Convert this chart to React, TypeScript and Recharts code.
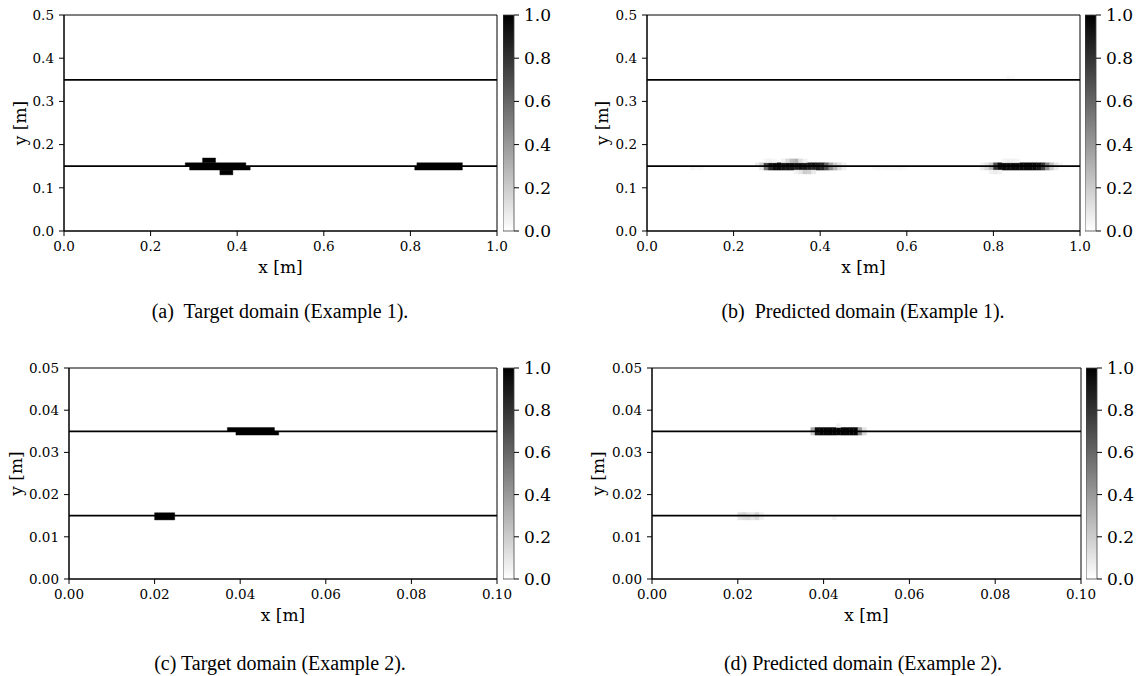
import React from 'react';
import { ComposedChart, Line, XAxis, YAxis, ReferenceArea, Label } from 'recharts';

// ---------- axis ticks / domains ----------
const ex1XTicks = [0, 0.2, 0.4, 0.6, 0.8, 1.0];
const ex1YTicks = [0, 0.1, 0.2, 0.3, 0.4, 0.5];
const ex2XTicks = [0, 0.02, 0.04, 0.06, 0.08, 0.1];
const ex2YTicks = [0, 0.01, 0.02, 0.03, 0.04, 0.05];
const colorbarTicks = [0, 0.2, 0.4, 0.6, 0.8, 1.0];
const ex1Interfaces = [0.15, 0.35];
const ex2Interfaces = [0.015, 0.035];

// ---------- target domains: blocks of value 1 ----------
const target1Blocks = [
  { x0: 0.28, x1: 0.42, y0: 0.1495, y1: 0.158, v: 1 },
  { x0: 0.29, x1: 0.43, y0: 0.141, y1: 0.1495, v: 1 },
  { x0: 0.32, x1: 0.35, y0: 0.158, y1: 0.169, v: 1 },
  { x0: 0.36, x1: 0.39, y0: 0.13, y1: 0.141, v: 1 },
  { x0: 0.815, x1: 0.92, y0: 0.1495, y1: 0.158, v: 1 },
  { x0: 0.81, x1: 0.92, y0: 0.141, y1: 0.1495, v: 1 },
];
const target2Blocks = [
  { x0: 0.037, x1: 0.048, y0: 0.035, y1: 0.0359, v: 1 },
  { x0: 0.039, x1: 0.049, y0: 0.0341, y1: 0.035, v: 1 },
  { x0: 0.02, x1: 0.0247, y0: 0.014, y1: 0.0157, v: 1 },
];

// ---------- predicted domains: pixel rows (start x, step, values) ----------
const pred1Rows = [
  { y0: 0.1495, y1: 0.158, x0: 0.25, dx: 0.01, vals: [0.08, 0.2, 0.75, 0.95, 0.97, 0.97, 0.95, 0.97, 0.95, 0.93, 0.95, 0.9, 0.9, 0.92, 0.88, 0.85, 0.6, 0.35, 0.2, 0.12, 0.05] },
  { y0: 0.141, y1: 0.1495, x0: 0.26, dx: 0.01, vals: [0.1, 0.55, 0.85, 0.95, 0.95, 0.93, 0.92, 0.9, 0.88, 0.92, 0.9, 0.88, 0.85, 0.88, 0.85, 0.7, 0.45, 0.3, 0.15, 0.06] },
  { y0: 0.158, y1: 0.167, x0: 0.31, dx: 0.01, vals: [0.06, 0.15, 0.25, 0.3, 0.12, 0.05] },
  { y0: 0.132, y1: 0.141, x0: 0.34, dx: 0.01, vals: [0.05, 0.1, 0.2, 0.18, 0.08] },
  { y0: 0.158, y1: 0.167, x0: 0.27, dx: 0.01, vals: [0.04, 0.05, 0.03] },
  { y0: 0.1495, y1: 0.158, x0: 0.77, dx: 0.01, vals: [0.05, 0.1, 0.2, 0.7, 0.95, 0.97, 0.97, 0.97, 0.97, 0.97, 0.97, 0.97, 0.97, 0.92, 0.8, 0.5, 0.25, 0.1, 0.04] },
  { y0: 0.141, y1: 0.1495, x0: 0.77, dx: 0.01, vals: [0.08, 0.15, 0.3, 0.8, 0.95, 0.96, 0.96, 0.96, 0.96, 0.96, 0.96, 0.96, 0.96, 0.9, 0.75, 0.45, 0.2, 0.08] },
  { y0: 0.158, y1: 0.167, x0: 0.82, dx: 0.01, vals: [0.04, 0.06, 0.05, 0.04] },
  { y0: 0.132, y1: 0.141, x0: 0.79, dx: 0.01, vals: [0.05, 0.08, 0.05] },
  { y0: 0.141, y1: 0.1495, x0: 0.1, dx: 0.01, vals: [0.04, 0.02, 0.03] },
  { y0: 0.141, y1: 0.1495, x0: 0.52, dx: 0.01, vals: [0.02, 0.03, 0.02, 0.03, 0.02, 0.02, 0.03, 0.02] },
  { y0: 0.35, y1: 0.359, x0: 0.83, dx: 0.01, vals: [0.03, 0.02] },
];
const pred2Rows = [
  { y0: 0.035, y1: 0.0359, x0: 0.037, dx: 0.001, vals: [0.35, 0.95, 0.98, 0.98, 0.98, 0.98, 0.98, 0.98, 0.98, 0.98, 0.98, 0.4, 0.1] },
  { y0: 0.0341, y1: 0.035, x0: 0.037, dx: 0.001, vals: [0.2, 0.9, 0.98, 0.98, 0.98, 0.98, 0.98, 0.98, 0.98, 0.98, 0.98, 0.5, 0.15] },
  { y0: 0.0359, y1: 0.0368, x0: 0.043, dx: 0.001, vals: [0.06] },
  { y0: 0.0149, y1: 0.0158, x0: 0.02, dx: 0.001, vals: [0.12, 0.15, 0.1, 0.08, 0.14, 0.05] },
  { y0: 0.014, y1: 0.0149, x0: 0.02, dx: 0.001, vals: [0.1, 0.12, 0.14, 0.1, 0.15, 0.06] },
  { y0: 0.014, y1: 0.0149, x0: 0.042, dx: 0.001, vals: [0.04] },
];

type Cell = { x0: number; x1: number; y0: number; y1: number; v: number };
type Row = { y0: number; y1: number; x0: number; dx: number; vals: number[] };

function rowsToCells(rows: Row[]): Cell[] {
  const out: Cell[] = [];
  rows.forEach((r) =>
    r.vals.forEach((v, i) =>
      out.push({ x0: r.x0 + i * r.dx, x1: r.x0 + (i + 1) * r.dx, y0: r.y0, y1: r.y1, v })
    )
  );
  return out;
}

const grayOf = (v: number) => {
  const c = Math.round(255 * (1 - Math.max(0, Math.min(1, v))));
  return `rgb(${c},${c},${c})`;
};

const SERIF = 'DejaVu Serif';
const TICK_FONT = 13.5;
const LABEL_FONT = 17;
const CB_FONT = 17;
const tickStyle = { fontFamily: SERIF, fontSize: TICK_FONT, fill: '#000', style: { fontFamily: SERIF } };

type PanelProps = {
  left: number;
  top: number;
  width: number;
  height: number;
  yAxisWidth: number;
  xDomain: [number, number];
  yDomain: [number, number];
  xTicks: number[];
  yTicks: number[];
  digits: number;
  interfaces: number[];
  cells: Cell[];
  yLabelDx: number;
};

function Panel(p: PanelProps) {
  const mTop = 15;
  const mBottom = 24;
  const mRight = 20;
  const xAxisH = 45;
  const plotW = p.width - p.yAxisWidth - mRight;
  const plotH = p.height - mTop - mBottom - xAxisH;
  const lineData = p.xDomain.map((x) => ({ x, i0: p.interfaces[0], i1: p.interfaces[1] }));
  const yLabelX = p.yAxisWidth + p.yLabelDx;
  const yLabelY = mTop + plotH / 2;
  const xLabelX = p.yAxisWidth + plotW / 2;
  const xLabelY = mTop + plotH + 42;
  const fmt = (v: number) => Number(v).toFixed(p.digits);
  return (
    <div style={{ position: 'absolute', left: p.left, top: p.top }}>
      <ComposedChart
        width={p.width}
        height={p.height}
        data={lineData}
        margin={{ top: mTop, right: mRight, bottom: mBottom, left: 0 }}
      >
        <XAxis
          dataKey="x"
          type="number"
          domain={p.xDomain}
          ticks={p.xTicks}
          interval={0}
          allowDataOverflow
          tickFormatter={fmt}
          height={xAxisH}
          tickSize={5}
          tickMargin={5}
          stroke="#000"
          tick={tickStyle}
        >
          <Label
            content={() => (
              <text
                x={xLabelX}
                y={xLabelY}
                textAnchor="middle"
                style={{ fontFamily: SERIF, fontSize: LABEL_FONT }}
                fill="#000"
              >
                x [m]
              </text>
            )}
          />
        </XAxis>
        <YAxis
          type="number"
          domain={p.yDomain}
          ticks={p.yTicks}
          interval={0}
          allowDataOverflow
          tickFormatter={fmt}
          width={p.yAxisWidth}
          tickSize={5}
          tickMargin={5}
          stroke="#000"
          tick={tickStyle}
        >
          <Label
            content={() => (
              <text
                x={yLabelX}
                y={yLabelY}
                textAnchor="middle"
                dominantBaseline="central"
                transform={`rotate(-90, ${yLabelX}, ${yLabelY})`}
                style={{ fontFamily: SERIF, fontSize: LABEL_FONT }}
                fill="#000"
              >
                y [m]
              </text>
            )}
          />
        </YAxis>
        {p.cells.map((c, i) => (
          <ReferenceArea
            key={i}
            x1={c.x0}
            x2={c.x1}
            y1={c.y0}
            y2={c.y1}
            fill={grayOf(c.v)}
            fillOpacity={1}
            stroke={grayOf(c.v)}
            strokeWidth={0.4}
            ifOverflow="hidden"
          />
        ))}
        <Line dataKey="i0" stroke="#000" strokeWidth={1.8} dot={false} activeDot={false} isAnimationActive={false} />
        <Line dataKey="i1" stroke="#000" strokeWidth={1.8} dot={false} activeDot={false} isAnimationActive={false} />
        <ReferenceArea
          x1={p.xDomain[0]}
          x2={p.xDomain[1]}
          y1={p.yDomain[0]}
          y2={p.yDomain[1]}
          fill="none"
          fillOpacity={0}
          stroke="#000"
          strokeWidth={1}
          ifOverflow="visible"
        />
      </ComposedChart>
    </div>
  );
}

function Colorbar({ left, top, height, id }: { left: number; top: number; height: number; id: string }) {
  const mTop = 15;
  const mBottom = 69;
  const barW = 11;
  const axisW = 48;
  const data = [{ x: 0, v: 0 }, { x: 1, v: 1 }];
  return (
    <div style={{ position: 'absolute', left, top }}>
      <ComposedChart
        width={barW + axisW}
        height={height}
        data={data}
        margin={{ top: mTop, right: 0, bottom: mBottom, left: 0 }}
      >
        <defs>
          <linearGradient id={id} x1="0" y1="0" x2="0" y2="1">
            <stop offset="0%" stopColor="#000" />
            <stop offset="100%" stopColor="#fff" />
          </linearGradient>
        </defs>
        <XAxis dataKey="x" type="number" domain={[0, 1]} hide />
        <YAxis
          yAxisId={0}
          orientation="right"
          type="number"
          domain={[0, 1]}
          ticks={colorbarTicks}
          interval={0}
          tickFormatter={(v: number) => Number(v).toFixed(1)}
          width={axisW}
          tickSize={5}
          tickMargin={5}
          axisLine={false}
          stroke="#000"
          tick={{ fontFamily: SERIF, fontSize: CB_FONT, fill: '#000', style: { fontFamily: SERIF } }}
        />
        <ReferenceArea
          x1={0}
          x2={1}
          y1={0}
          y2={1}
          fill={`url(#${id})`}
          fillOpacity={1}
          stroke="#444"
          strokeWidth={0.8}
          ifOverflow="visible"
        />
        <Line dataKey="v" stroke="none" dot={false} activeDot={false} isAnimationActive={false} />
      </ComposedChart>
    </div>
  );
}

const captionStyle: React.CSSProperties = {
  position: 'absolute',
  width: 500,
  textAlign: 'center',
  fontFamily: '"Liberation Serif", "Times New Roman", serif',
  fontSize: 20,
  color: '#000',
  whiteSpace: 'pre',
  lineHeight: '24px',
};

export default function App() {
  const target1 = target1Blocks;
  const target2 = target2Blocks;
  const pred1 = rowsToCells(pred1Rows);
  const pred2 = rowsToCells(pred2Rows);
  return (
    <div
      style={{
        position: 'absolute',
        left: 0,
        top: 0,
        width: 1140,
        height: 676,
        overflow: 'hidden',
        background: '#fff',
      }}
    >
      <Panel left={0} top={0} width={517} height={300} yAxisWidth={64} xDomain={[0, 1]} yDomain={[0, 0.5]} xTicks={ex1XTicks} yTicks={ex1YTicks} digits={1} interfaces={ex1Interfaces} cells={target1} yLabelDx={-44} />
      <Colorbar left={503} top={0} height={300} id="cbA" />
      <Panel left={583} top={0} width={517} height={300} yAxisWidth={64} xDomain={[0, 1]} yDomain={[0, 0.5]} xTicks={ex1XTicks} yTicks={ex1YTicks} digits={1} interfaces={ex1Interfaces} cells={pred1} yLabelDx={-45} />
      <Colorbar left={1085} top={0} height={300} id="cbB" />
      <Panel left={0} top={353} width={517} height={295} yAxisWidth={69} xDomain={[0, 0.1]} yDomain={[0, 0.05]} xTicks={ex2XTicks} yTicks={ex2YTicks} digits={2} interfaces={ex2Interfaces} cells={target2} yLabelDx={-53} />
      <Colorbar left={503} top={353} height={295} id="cbC" />
      <Panel left={583} top={353} width={518} height={295} yAxisWidth={69} xDomain={[0, 0.1]} yDomain={[0, 0.05]} xTicks={ex2XTicks} yTicks={ex2YTicks} digits={2} interfaces={ex2Interfaces} cells={pred2} yLabelDx={-54} />
      <Colorbar left={1086} top={353} height={295} id="cbD" />
      <div style={{ ...captionStyle, left: 30, top: 299 }}>{'(a)  Target domain (Example 1).'}</div>
      <div style={{ ...captionStyle, left: 613, top: 299 }}>{'(b)  Predicted domain (Example 1).'}</div>
      <div style={{ ...captionStyle, left: 30, top: 651 }}>{'(c) Target domain (Example 2).'}</div>
      <div style={{ ...captionStyle, left: 613, top: 651 }}>{'(d) Predicted domain (Example 2).'}</div>
    </div>
  );
}
